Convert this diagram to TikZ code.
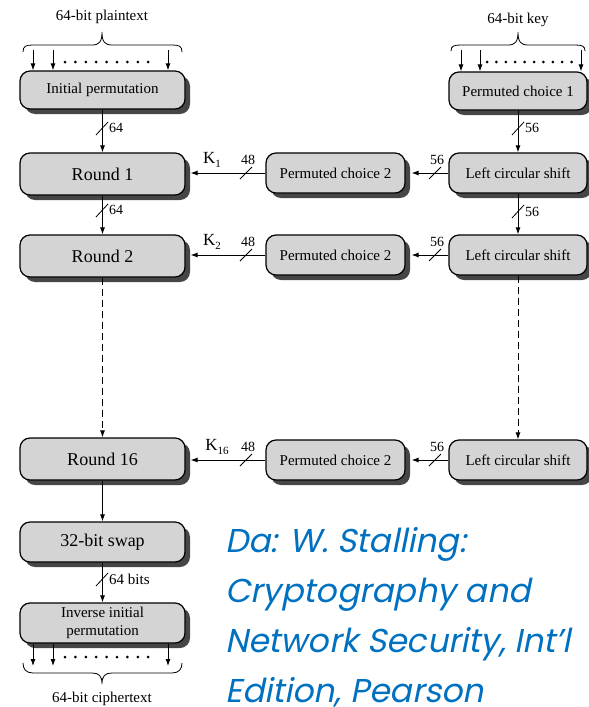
\documentclass[tikz,border=0pt]{standalone}
\usepackage{fontspec}
\setmainfont{Liberation Serif}
\newfontfamily\bluefont{Poppins}[FakeSlant=0.2]
\usetikzlibrary{shadows,arrows.meta,calc}
\definecolor{boxfill}{RGB}{212,212,212}
\definecolor{shadowc}{RGB}{70,70,70}
\definecolor{noteblue}{RGB}{0,112,192}
\begin{document}
\begin{tikzpicture}[x=1pt,y=-1pt,
  box/.style={draw, line width=1.2pt, rounded corners=10pt, fill=boxfill,
    drop shadow={shadow xshift=5pt, shadow yshift=-5pt, fill=shadowc, opacity=1},
    inner sep=2pt, align=center},
  bigbox/.style={box, minimum width=165pt, minimum height=42pt, font=\fontsize{18}{20}\selectfont},
  smallbox/.style={box, minimum width=138pt, minimum height=40pt, font=\fontsize{15}{18}\selectfont},
  arr/.style={-{Latex[length=7pt,width=5pt]}, line width=0.9pt},
  slashline/.style={line width=0.8pt},
  lbl/.style={font=\fontsize{14}{14}\selectfont, inner sep=0pt},
  klbl/.style={font=\fontsize{17}{17}\selectfont, inner sep=0pt},
  captext/.style={font=\fontsize{15}{15}\selectfont, inner sep=0pt},
  dashedline/.style={line width=0.9pt, dash pattern=on 7pt off 4pt},
  note/.style={font=\bluefont\fontsize{33}{33}\selectfont, text=noteblue, anchor=base west, inner sep=0pt}
]
\useasboundingbox (0,0) rectangle (589,707);

% ---- boxes
\node[smallbox, minimum width=165pt, minimum height=38pt] (ip) at (102.5,90) {Initial permutation};
\node[smallbox, minimum height=38pt] (pc1) at (518,91) {Permuted choice 1};

\node[bigbox] (r1) at (102.5,174) {Round 1};
\node[smallbox, minimum width=139pt] (pca) at (335.5,173) {Permuted choice 2};
\node[smallbox] (lcsa) at (518,173) {Left circular shift};

\node[bigbox] (r2) at (102.5,256) {Round 2};
\node[smallbox, minimum width=139pt] (pcb) at (335.5,255) {Permuted choice 2};
\node[smallbox] (lcsb) at (518,255) {Left circular shift};

\node[bigbox] (r16) at (102.5,459) {Round 16};
\node[smallbox, minimum width=139pt] (pcc) at (335.5,460) {Permuted choice 2};
\node[smallbox] (lcsc) at (518,460) {Left circular shift};

\node[bigbox, minimum height=40pt] (sw) at (102.5,542) {32-bit swap};
\node[smallbox, minimum width=165pt, minimum height=40pt, font=\fontsize{15}{18}\selectfont] (inv) at (102.5,623) {Inverse initial\\permutation};

% ---- input braces and arrows
\node[captext] (pt) at (102,17) {64-bit plaintext};
\draw[line width=0.8pt] (23,52) .. controls (23,46) and (26,45) .. (33,45) -- (92,45)
  .. controls (99,45) and (102,42) .. (102,32) .. controls (102,42) and (105,45) .. (112,45)
  -- (172,45) .. controls (179,45) and (182,46) .. (182,52);
\foreach \x in {33,53,168} \draw[arr] (\x,50) -- (\x,0 |- ip.north);
\foreach \x in {0,...,8} \fill (65+10.4*\x,62) circle (1.5pt);

\node[captext] (kt) at (518,20) {64-bit key};
\draw[line width=0.8pt] (451,51) .. controls (451,46) and (454,45) .. (461,45) -- (508,45)
  .. controls (515,45) and (518,42) .. (518,32) .. controls (518,42) and (521,45) .. (528,45)
  -- (575,45) .. controls (582,45) and (585,46) .. (585,51);
\foreach \x in {461,480,581} \draw[arr] (\x,50) -- (\x,0 |- pc1.north);
\foreach \x in {0,...,9} \fill (487+9.4*\x,62) circle (1.5pt);

% ---- output arrows and brace
\foreach \x in {33,53,168} \draw[arr] (\x,0 |- inv.south) -- (\x,666);
\foreach \x in {0,...,8} \fill (65+10.4*\x,657) circle (1.5pt);
\draw[line width=0.8pt] (23,663) .. controls (23,669) and (26,673) .. (33,673) -- (92,673)
  .. controls (99,673) and (102,676) .. (102,684) .. controls (102,676) and (105,673) .. (112,673)
  -- (172,673) .. controls (179,673) and (182,669) .. (182,663);
\node[captext] (ct) at (102,699) {64-bit ciphertext};

% ---- left column connectors
\draw[arr] (ip.south) -- (r1.north);
\draw[slashline] (96,135) -- (108,122);
\node[lbl, anchor=west] at (109,128) {64};

\draw[arr] (r1.south) -- (r2.north);
\draw[slashline] (96,217) -- (108,204);
\node[lbl, anchor=west] at (109,210) {64};

\draw[arr, dashedline] (r2.south) -- (r16.north);
\draw[arr] (r16.south) -- (sw.north);

\draw[arr] (sw.south) -- (inv.north);
\draw[slashline] (96,586) -- (108,573);
\node[lbl, anchor=west, font=\fontsize{15}{15}\selectfont] at (109,579) {64 bits};

% ---- right column connectors
\draw[arr] (pc1.south) -- (lcsa.north);
\draw[slashline] (512,135) -- (524,122);
\node[lbl, anchor=west] at (525,128) {56};

\draw[arr] (lcsa.south) -- (lcsb.north);
\draw[slashline] (512,218) -- (524,205);
\node[lbl, anchor=west] at (525,212) {56};

\draw[arr, dashedline] (lcsb.south) -- (lcsc.north);

% ---- horizontal connectors
\draw[arr] (lcsa.west) -- ([xshift=6pt]pca.east);
\draw[slashline] (429,179) -- (441,167);
\node[lbl] at (437,160) {56};
\draw[arr] (pca.west) -- ([xshift=5pt]r1.east |- pca.west);
\draw[slashline] (240,179) -- (252,167);
\node[lbl] at (248,160) {48};
\node[klbl] at (212,160) {K\raisebox{-4pt}{\fontsize{11}{11}\selectfont 1}};

\draw[arr] (lcsb.west) -- ([xshift=6pt]pcb.east);
\draw[slashline] (429,261) -- (441,249);
\node[lbl] at (437,242) {56};
\draw[arr] (pcb.west) -- ([xshift=5pt]r2.east |- pcb.west);
\draw[slashline] (240,261) -- (252,249);
\node[lbl] at (248,242) {48};
\node[klbl] at (212,242) {K\raisebox{-4pt}{\fontsize{11}{11}\selectfont 2}};

\draw[arr] (lcsc.west) -- ([xshift=6pt]pcc.east);
\draw[slashline] (429,466) -- (441,454);
\node[lbl] at (437,447) {56};
\draw[arr] (pcc.west) -- ([xshift=5pt]r16.east |- pcc.west);
\draw[slashline] (240,466) -- (252,454);
\node[lbl] at (248,447) {48};
\node[klbl] at (217,447) {K\raisebox{-4pt}{\fontsize{11}{11}\selectfont 16}};

% ---- note
\node[note] (n1) at (225,552) {Da: W. Stalling:};
\node[note] (n2) at (225,602) {Cryptography and};
\node[note] (n3) at (225,652) {Network Security, Int’l};
\node[note] (n4) at (225,702) {Edition, Pearson};
\end{tikzpicture}
\end{document}
